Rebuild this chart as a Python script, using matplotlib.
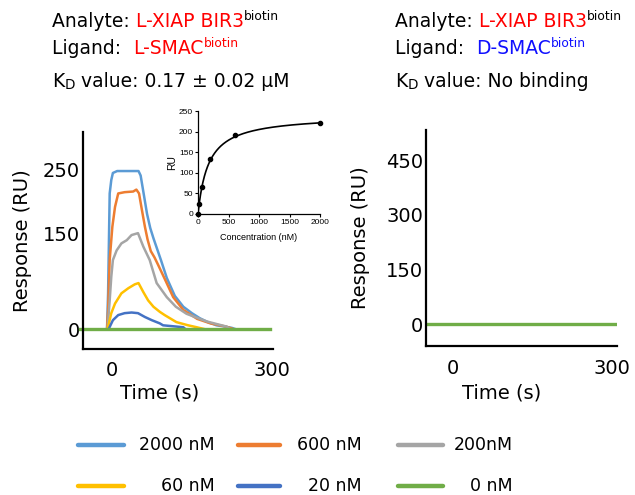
import numpy as np
import matplotlib
matplotlib.use('Agg')
import matplotlib.pyplot as plt
from matplotlib.lines import Line2D
from matplotlib.text import Annotation

plt.rcParams['font.family'] = ['DejaVu Sans']

# SPR sensorgrams, L-SMAC surface (time in s, response in RU)
t_2000 = [-9, -7, -5, -4, -1, 2, 10, 50, 54, 57, 61, 66, 72, 78, 85, 92, 103, 118, 134, 150, 165, 180, 196, 212, 225, 232]
ru_2000 = [0, 56, 160, 212, 233, 244, 247, 247, 240, 225, 205, 180, 158, 142, 125, 108, 80, 52, 35, 25, 17, 11, 6, 4, 2, 0]

t_600 = [-9, -7, -4, 1, 6, 12, 24, 40, 46, 51, 56, 62, 67, 73, 80, 87, 100, 115, 134, 160, 185, 214, 228]
ru_600 = [0, 30, 108, 160, 191, 212, 214, 215, 218, 212, 188, 160, 140, 122, 112, 100, 77, 50, 30, 16, 9, 4, 0]

t_200 = [-8, -4, -1, 2, 9, 18, 28, 37, 49, 59, 71, 84, 103, 120, 140, 178, 215, 222]
ru_200 = [0, 45, 82, 108, 123, 134, 139, 147, 150, 129, 108, 72, 50, 35, 24, 12, 4, 0]

t_60 = [-8, -1, 6, 18, 31, 43, 50, 59, 68, 78, 90, 99, 121, 143, 159, 174]
ru_60 = [0, 25, 40, 56, 64, 70, 72, 58, 45, 35, 27, 22, 11, 6, 3, 0]

t_20 = [-6, 2, 12, 24, 37, 49, 62, 75, 90, 96, 134, 138]
ru_20 = [0, 14, 22, 25, 26, 25, 19, 14, 9, 6, 3, 0]

t_0_left = [-60, 296]
ru_0_left = [0, 0]

# D-SMAC surface: flat trace
t_0_right = [-51, 309]
ru_0_right = [0, 0]

# steady-state responses vs. analyte concentration
conc_nm = [0, 20, 60, 200, 600, 2000]
ru_eq = [0, 25, 65, 133, 191, 220]
KD_NM = 170
BMAX = 240

labels = ['2000 nM', '600 nM', '200nM', '60 nM', '20 nM', '0 nM']
colors = ['#5B9BD5', '#ED7D31', '#A5A5A5', '#FFC000', '#4472C4', '#70AD47']

W, H = 635, 495


def fx(x):
    return x / W


def fy(y):
    return 1 - y / H


fig = plt.figure(figsize=(6.35, 4.95), dpi=100)


def style_axes(ax):
    for side in ['top', 'right']:
        ax.spines[side].set_visible(False)
    for side in ['left', 'bottom']:
        ax.spines[side].set_linewidth(1.6)
    ax.tick_params(axis='both', length=0, labelsize=14)
    ax.tick_params(axis='y', pad=2)
    ax.tick_params(axis='x', pad=9)


# left sensorgram panel
ax1 = fig.add_axes([fx(83), fy(349), fx(190), 217 / H])
traces = [(t_2000, ru_2000), (t_600, ru_600), (t_200, ru_200), (t_60, ru_60), (t_20, ru_20)]
for (t, ru), c in zip(traces, colors[:5]):
    ax1.plot(t, ru, color=c, lw=1.8)
ax1.plot(t_0_left, ru_0_left, color=colors[5], lw=2.4, clip_on=False)
ax1.set_xlim(-54, 302)
ax1.set_ylim(-31, 308)
ax1.set_xticks([0, 300])
ax1.set_yticks([0, 150, 250])
style_axes(ax1)
ax1.set_ylabel('Response (RU)', fontsize=14)
ax1.set_xlabel('Time (s)', fontsize=14)
ax1.yaxis.set_label_coords(-0.268, 0.5)
ax1.xaxis.set_label_coords(0.405, -0.158)

# right sensorgram panel
ax2 = fig.add_axes([fx(426), fy(346), fx(191), 216 / H])
ax2.plot(t_0_right, ru_0_right, color=colors[5], lw=2.4)
ax2.set_xlim(-51, 309)
ax2.set_ylim(-60, 533)
ax2.set_xticks([0, 300])
ax2.set_yticks([0, 150, 300, 450])
style_axes(ax2)
ax2.set_ylabel('Response (RU)', fontsize=14)
ax2.set_xlabel('Time (s)', fontsize=14)
ax2.yaxis.set_label_coords(-0.293, 0.5)
ax2.xaxis.set_label_coords(0.398, -0.172)

# inset: steady-state binding curve
ins = fig.add_axes([fx(198), fy(214), fx(122), 103 / H])
c_fit = np.linspace(0, 2000, 400)
ins.plot(c_fit, BMAX * c_fit / (KD_NM + c_fit), color='black', lw=1.2)
ins.plot(conc_nm, ru_eq, 'o', color='black', ms=3, clip_on=False)
ins.set_xlim(0, 2000)
ins.set_ylim(0, 250)
ins.set_xticks([0, 500, 1000, 1500, 2000])
ins.set_yticks([0, 50, 100, 150, 200, 250])
for side in ['top', 'right']:
    ins.spines[side].set_visible(False)
for side in ['left', 'bottom']:
    ins.spines[side].set_linewidth(0.9)
ins.tick_params(axis='both', length=2, width=0.8, labelsize=6, pad=1.5)
for lab in ins.get_xticklabels() + ins.get_yticklabels():
    lab.set_family('Liberation Sans')
ins.set_xlabel('Concentration (nM)', fontsize=6.5, family='Liberation Sans', labelpad=5)
ins.set_ylabel('RU', fontsize=7.5, family='Liberation Sans', labelpad=1)


def rich_line(x, y, pieces, size=13.5):
    """Draw text pieces side by side; kind is '' (normal), 'sup' or 'sub'."""
    base = fig.text(fx(x), fy(y), pieces[0][0], color=pieces[0][1], fontsize=size, va='bottom', ha='left')
    prev = base
    for text, color, kind in pieces[1:]:
        if kind == 'sup':
            fs, dx, dy = size * 0.66, 0.3, 5.5
        elif kind == 'sub':
            fs, dx, dy = size * 0.72, 0.3, -0.8
        else:
            fs, dx, dy = size, 0, 0
        art = Annotation(text, xy=(1, 0), xycoords=(prev, base), xytext=(dx, dy), textcoords='offset points',
                         color=color, fontsize=fs, va='bottom', ha='left')
        fig.add_artist(art)
        prev = art


RED = '#FF0000'
BLUE = '#1010FF'
for x0, ligand, ligand_color, kd in [(52, 'L-SMAC', RED, '0.17 \u00b1 0.02 \u03bcM'),
                                     (395, 'D-SMAC', BLUE, 'No binding')]:
    rich_line(x0, 31, [('Analyte: ', 'black', ''), ('L-XIAP BIR3', RED, ''), ('biotin', 'black', 'sup')])
    rich_line(x0, 58, [('Ligand:  ', 'black', ''), (ligand, ligand_color, ''), ('biotin', ligand_color, 'sup')])
    rich_line(x0, 91, [('K', 'black', ''), ('D', 'black', 'sub'), (' value: ' + kd, 'black', '')])

# legend, two rows of three
key_x = [(78, 124), (238, 280), (398, 443)]
text_right = [215, 362, 513]
row_y = [445, 486]
for i, (lab, c) in enumerate(zip(labels, colors)):
    row, col = divmod(i, 3)
    x0, x1 = key_x[col]
    fig.add_artist(Line2D([fx(x0), fx(x1)], [fy(row_y[row]), fy(row_y[row])], transform=fig.transFigure,
                          color=c, lw=3.2, solid_capstyle='round'))
    fig.text(fx(text_right[col]), fy(row_y[row]), lab, fontsize=12.5, ha='right', va='center')

fig.savefig('out.png', dpi=100)
